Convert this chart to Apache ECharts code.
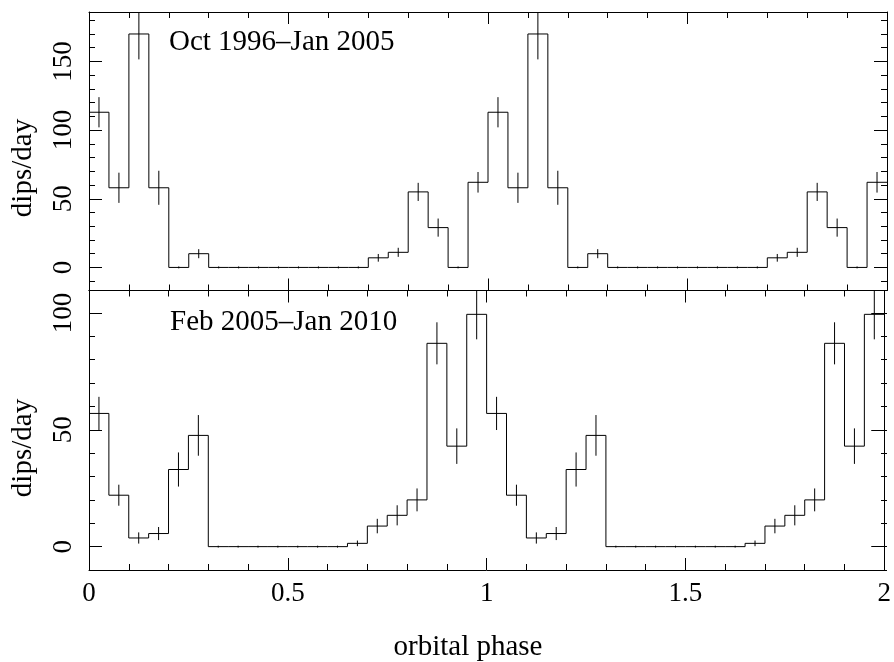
<!DOCTYPE html>
<html>
<head>
<meta charset="utf-8">
<script src="https://cdn.jsdelivr.net/npm/echarts@6/dist/echarts.min.js"></script>
<style>
  html, body { margin: 0; padding: 0; background: #fff; }
  #chart { width: 894px; height: 662px; }
</style>
</head>
<body>
<div id="chart"></div>
<script>
// Folded dip-rate profile: 20 phase bins per orbit, plotted over two cycles.
const binPhase = [0.00, 0.05, 0.10, 0.15, 0.20, 0.25, 0.30, 0.35, 0.40, 0.45,
                  0.50, 0.55, 0.60, 0.65, 0.70, 0.75, 0.80, 0.85, 0.90, 0.95];
const binWidth = 0.05;
const cycles = [0, 1];

// Oct 1996 – Jan 2005
const ratesEarly = [113, 58, 170, 58, 0, 10, 0, 0, 0, 0,
                    0, 0, 0, 0, 7, 11, 55, 29, 0, 62];
const errEarly   = [11, 11, 18.5, 12.4, 0.7, 3.3, 0.7, 0.7, 0.7, 0.7,
                    0.7, 0.7, 0.7, 0.7, 2.8, 3.3, 6.6, 6.6, 0.7, 7.5];

// Feb 2005 – Jan 2010
const ratesLate = [57, 22, 3.7, 5.6, 33, 47.6, 0, 0, 0, 0,
                   0, 0, 0, 1.4, 8.8, 13.4, 20, 87, 43, 99.4];
const errLate   = [7.1, 4.5, 2.4, 2.8, 7.3, 8.7, 0.4, 0.4, 0.4, 0.4,
                   0.4, 0.4, 0.4, 1.2, 3.1, 4.3, 4.9, 9, 7.6, 10.7];

const panelLabels = ['Oct 1996\u2013Jan 2005', 'Feb 2005\u2013Jan 2010'];
const yTitle = 'dips/day';
const xTitle = 'orbital phase';

const FONT = "'Liberation Serif', 'Times New Roman', serif";
const INK = '#000';

// Per-panel y ranges and tick spacing
const panels = [
  { rates: ratesEarly, errs: errEarly, yMin: -16.8, yMax: 186,   major: 50, minor: 10,
    rect: { left: 89, top: 12, width: 798, height: 278.5 } },
  { rates: ratesLate,  errs: errLate,  yMin: -10,   yMax: 109.6, major: 50, minor: 10,
    rect: { left: 89, top: 290.5, width: 798, height: 279.5 } }
];

function stepData(rates) {
  const pts = [];
  cycles.forEach(c => binPhase.forEach((p, i) => pts.push([c + p, rates[i]])));
  pts.push([cycles[cycles.length - 1] + 1, rates[rates.length - 1]]);
  return pts;
}
function errorData(rates, errs) {
  const pts = [];
  cycles.forEach(c => binPhase.forEach((p, i) =>
    pts.push([c + p + binWidth / 2, rates[i] - errs[i], rates[i] + errs[i]])));
  return pts;
}

// Each panel uses two overlapping grids: one carries the frame, major ticks
// and labels, the other only the minor y ticks (one axis per side per grid).
const grids = [];
const xAxes = [];
const yAxes = [];
const frameIdx = [];

panels.forEach((p, pi) => {
  // main grid
  const gMain = grids.length;
  grids.push(Object.assign({}, p.rect));
  frameIdx.push({ grid: gMain, x: xAxes.length, y: yAxes.length });
  ['bottom', 'top'].forEach(pos => {
    xAxes.push({
      type: 'value', gridIndex: gMain, position: pos, min: 0, max: 2, interval: 0.5,
      axisLine: { show: true, onZero: false, lineStyle: { color: INK, width: 1 } },
      axisTick: { show: true, inside: true, length: 12, lineStyle: { color: INK, width: 1 } },
      minorTick: { show: true, splitNumber: 5, length: 6, lineStyle: { color: INK, width: 1 } },
      splitLine: { show: false },
      axisLabel: {
        show: pi === 1 && pos === 'bottom', margin: 10,
        fontFamily: FONT, fontSize: 27, color: INK
      }
    });
  });
  ['left', 'right'].forEach(pos => {
    yAxes.push({
      type: 'value', gridIndex: gMain, position: pos, min: p.yMin, max: p.yMax,
      minInterval: p.major, maxInterval: p.major,
      axisLine: { show: true, onZero: false, lineStyle: { color: INK, width: 1 } },
      axisTick: { show: true, inside: true, length: 13, lineStyle: { color: INK, width: 1 } },
      splitLine: { show: false },
      axisLabel: {
        show: pos === 'left', rotate: 90, margin: 12,
        fontFamily: FONT, fontSize: 27, color: INK,
        formatter: v => (Math.abs(v / p.major - Math.round(v / p.major)) < 1e-6 ? String(Math.round(v)) : '')
      }
    });
  });

  // minor-tick grid
  const gMinor = grids.length;
  grids.push(Object.assign({}, p.rect));
  xAxes.push({
    type: 'value', gridIndex: gMinor, position: 'bottom', min: 0, max: 2,
    show: false
  });
  ['left', 'right'].forEach(pos => {
    yAxes.push({
      type: 'value', gridIndex: gMinor, position: pos, min: p.yMin, max: p.yMax,
      minInterval: p.minor, maxInterval: p.minor,
      axisLine: { show: false },
      axisTick: { show: true, inside: true, length: 6, lineStyle: { color: INK, width: 1 } },
      splitLine: { show: false },
      axisLabel: { show: false }
    });
  });
});

const series = [];
panels.forEach((p, pi) => {
  const f = frameIdx[pi];
  series.push({
    type: 'line', xAxisIndex: f.x, yAxisIndex: f.y,
    step: 'end', symbol: 'none', silent: true,
    lineStyle: { color: INK, width: 1 },
    data: stepData(p.rates)
  });
  series.push({
    type: 'custom', xAxisIndex: f.x, yAxisIndex: f.y, clip: true, silent: true,
    encode: { x: 0, y: [1, 2] },
    data: errorData(p.rates, p.errs),
    renderItem: (params, api) => {
      const a = api.coord([api.value(0), api.value(1)]);
      const b = api.coord([api.value(0), api.value(2)]);
      return {
        type: 'line',
        shape: { x1: a[0], y1: a[1], x2: b[0], y2: b[1] },
        style: { stroke: INK, lineWidth: 1 }
      };
    }
  });
});

const textStyle = (extra) => Object.assign({ fontFamily: FONT, fontSize: 29, fill: INK }, extra);

const option = {
  animation: false,
  backgroundColor: '#fff',
  grid: grids,
  xAxis: xAxes,
  yAxis: yAxes,
  series: series,
  graphic: [
    { type: 'text', left: 169, top: 28, style: textStyle({ text: panelLabels[0] }) },
    { type: 'text', left: 170, top: 308, style: textStyle({ text: panelLabels[1] }) },
    { type: 'text', x: 23, y: 168, rotation: Math.PI / 2,
      style: textStyle({ text: yTitle, align: 'center', verticalAlign: 'middle' }) },
    { type: 'text', x: 23, y: 448, rotation: Math.PI / 2,
      style: textStyle({ text: yTitle, align: 'center', verticalAlign: 'middle' }) },
    { type: 'text', x: 468, y: 647,
      style: textStyle({ text: xTitle, align: 'center', verticalAlign: 'middle' }) }
  ]
};

const chart = echarts.init(document.getElementById('chart'), null, { renderer: 'canvas' });
chart.setOption(option);
</script>
</body>
</html>
